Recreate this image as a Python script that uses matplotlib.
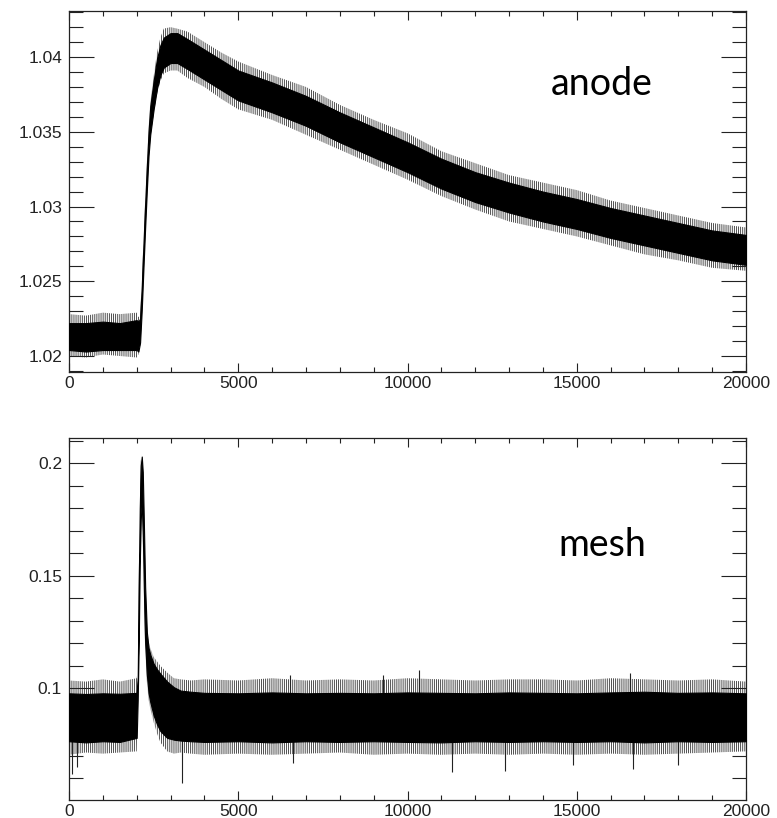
import numpy as np
import matplotlib
matplotlib.use('Agg')
import matplotlib.pyplot as plt
from matplotlib.ticker import MultipleLocator, FormatStrFormatter

plt.rcParams['font.family'] = ['Liberation Sans', 'DejaVu Sans']
plt.rcParams['hatch.linewidth'] = 0.6

# ---- anode waveform, envelopes
anode_x = [0, 500, 1000, 1500, 2000, 2050, 2100, 2150, 2200, 2250, 2300, 2350, 2400,
           2500, 2600, 2700, 2800, 3000, 3200, 3500, 4000, 4500, 5000, 6000, 7000,
           8000, 9000, 10000, 11000, 12000, 13000, 14000, 15000, 16000, 17000, 18000,
           19000, 20000]
anode_core_hi = [1.0222, 1.0222, 1.0223, 1.0222, 1.0224, 1.0223, 1.0225, 1.0247, 1.0275,
                 1.0302, 1.0327, 1.0350, 1.0367, 1.0384, 1.0399, 1.0408, 1.0413, 1.0416,
                 1.0416, 1.0412, 1.0405, 1.0398, 1.0391, 1.0383, 1.0374, 1.0363, 1.0353,
                 1.0343, 1.0332, 1.0323, 1.0316, 1.0310, 1.0305, 1.0299, 1.0294, 1.0289,
                 1.0284, 1.0281]
anode_core_lo = [1.0204, 1.0203, 1.0204, 1.0204, 1.0204, 1.0203, 1.0209, 1.0231, 1.0259,
                 1.0286, 1.0311, 1.0334, 1.0348, 1.0365, 1.0379, 1.0388, 1.0393, 1.0396,
                 1.0396, 1.0392, 1.0385, 1.0378, 1.0371, 1.0363, 1.0354, 1.0343, 1.0333,
                 1.0323, 1.0312, 1.0303, 1.0296, 1.0290, 1.0285, 1.0279, 1.0274, 1.0269,
                 1.0264, 1.0261]
anode_out_hi = [1.0228, 1.0227, 1.0229, 1.0228, 1.0229, 1.0226, 1.0227, 1.0249, 1.0277,
                1.0304, 1.0329, 1.0352, 1.0369, 1.0387, 1.0403, 1.0413, 1.0419, 1.0420,
                1.0419, 1.0417, 1.0410, 1.0403, 1.0397, 1.0388, 1.0380, 1.0368, 1.0358,
                1.0349, 1.0337, 1.0329, 1.0321, 1.0316, 1.0311, 1.0304, 1.0299, 1.0294,
                1.0289, 1.0286]
anode_out_lo = [1.0200, 1.0199, 1.0201, 1.0200, 1.0199, 1.0201, 1.0207, 1.0229, 1.0257,
                1.0284, 1.0309, 1.0332, 1.0346, 1.0361, 1.0375, 1.0384, 1.0389, 1.0391,
                1.0391, 1.0386, 1.0380, 1.0372, 1.0365, 1.0358, 1.0348, 1.0338, 1.0328,
                1.0318, 1.0307, 1.0298, 1.0290, 1.0285, 1.0280, 1.0274, 1.0268, 1.0264,
                1.0259, 1.0257]

# ---- mesh waveform
mesh_x = [0, 500, 1000, 1500, 2000, 2030, 2060, 2090, 2120, 2150, 2180, 2210, 2250, 2300,
          2350, 2400, 2500, 2600, 2700, 2900, 3100, 3300, 3600, 4000, 5000, 6000, 7000,
          8000, 9000, 10000, 11000, 12000, 13000, 14000, 15000, 16000, 17000, 18000,
          19000, 20000]
mesh_core_hi = [.0978, .0975, .0978, .0976, .0980, .1050, .1450, .1800, .1990, .2030, .1960,
                .1750, .1450, .1250, .1180, .1150, .1110, .1085, .1065, .1030, .1005, .0990,
                .0985, .0980, .0978, .0982, .0978, .0980, .0978, .0982, .0980, .0978, .0982,
                .0980, .0978, .0982, .0985, .0980, .0982, .0978]
mesh_core_lo = [.0765, .0760, .0765, .0762, .0780, .0950, .1200, .1550, .1750, .1830, .1700,
                .1450, .1200, .1060, .0980, .0940, .0880, .0840, .0810, .0780, .0772, .0768,
                .0765, .0762, .0765, .0760, .0765, .0762, .0765, .0762, .0760, .0765, .0762,
                .0765, .0762, .0765, .0760, .0765, .0762, .0765]
mesh_out_hi = [.1035, .1030, .1040, .1030, .1045, .1080, .1480, .1830, .2010, .2040, .1980,
               .1780, .1480, .1280, .1210, .1180, .1140, .1120, .1100, .1070, .1045, .1040,
               .1035, .1040, .1035, .1045, .1035, .1040, .1035, .1045, .1040, .1035, .1040,
               .1040, .1035, .1045, .1040, .1035, .1040, .1030]
mesh_out_lo = [.0705, .0715, .0710, .0715, .0720, .0920, .1170, .1520, .1720, .1800, .1670,
               .1420, .1170, .1030, .0950, .0910, .0850, .0800, .0760, .0720, .0710, .0715,
               .0710, .0705, .0710, .0705, .0710, .0715, .0705, .0710, .0705, .0710, .0705,
               .0710, .0705, .0710, .0705, .0710, .0715, .0720]
# odd long spikes sticking out of the mesh band
mesh_mid = 0.087
spike_x = [100, 250, 3330, 6530, 6620, 9280, 10340, 11300, 12880, 14890, 16570, 16660, 18000]
spike_to = [0.062, 0.065, 0.058, 0.106, 0.067, 0.106, 0.108, 0.063, 0.0635, 0.066, 0.107,
            0.064, 0.066]

fig = plt.figure(figsize=(7.77, 8.18), dpi=100)
ax1 = fig.add_axes([69/777, (818-371.7)/818, 677/777, 361/818])
ax2 = fig.add_axes([69/777, (818-800)/818, 677/777, (800-438.3)/818])

def draw_wave(ax, x, out_lo, out_hi, core_lo, core_hi):
    # fringe of noise spikes, then the solid core of the band on top
    ax.fill_between(x, out_lo, out_hi, facecolor='none', edgecolor='#333333',
                    hatch='||||||||', linewidth=0, zorder=1)
    ax.fill_between(x, core_lo, core_hi, color='black', linewidth=0.8, zorder=3)

draw_wave(ax1, anode_x, anode_out_lo, anode_out_hi, anode_core_lo, anode_core_hi)
draw_wave(ax2, mesh_x, mesh_out_lo, mesh_out_hi, mesh_core_lo, mesh_core_hi)
ax2.vlines(spike_x, mesh_mid, spike_to, color='#222222', linewidth=0.8, zorder=2)

ax1.set_ylim(1.01895, 1.0431)
ax2.set_ylim(0.0504, 0.2111)
ax1.yaxis.set_major_locator(MultipleLocator(0.005))
ax1.yaxis.set_minor_locator(MultipleLocator(0.001))
ax2.yaxis.set_major_locator(MultipleLocator(0.05))
ax2.yaxis.set_minor_locator(MultipleLocator(0.01))

for ax in (ax1, ax2):
    ax.set_xlim(0, 20000)
    ax.xaxis.set_major_locator(MultipleLocator(5000))
    ax.xaxis.set_minor_locator(MultipleLocator(1000))
    ax.yaxis.set_major_formatter(FormatStrFormatter('%g'))
    ax.tick_params(which='both', direction='in', top=True, right=True,
                   color='#222222', width=0.8, labelsize=12.5, labelcolor='#222222')
    ax.tick_params(axis='y', which='major', length=18, pad=5)
    ax.tick_params(axis='y', which='minor', length=10)
    ax.tick_params(axis='x', which='major', length=6.5, pad=3)
    ax.tick_params(axis='x', which='minor', length=3.6)
    for s in ax.spines.values():
        s.set_linewidth(0.9)
        s.set_color('#222222')

ax1.text(15750, 1.0382, 'anode', fontsize=27, family=['Lato', 'DejaVu Sans'],
         ha='center', va='center', color='black')
ax2.text(15750, 0.1636, 'mesh', fontsize=27, family=['Lato', 'DejaVu Sans'],
         ha='center', va='center', color='black')

fig.savefig('out.png', dpi=100, facecolor='white')
